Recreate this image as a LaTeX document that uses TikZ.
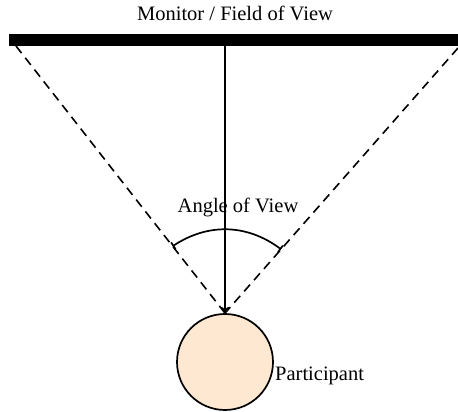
\documentclass[tikz,border=0pt]{standalone}
\usepackage{fontspec}
\setmainfont{Liberation Serif}
\usetikzlibrary{arrows.meta,positioning,calc}

\begin{document}
\begin{tikzpicture}[x=1pt,y=1pt,
  font=\fontsize{20.5}{24}\selectfont,>={To[length=2.2mm,width=2.8mm]},
  monitor/.style={fill=black,inner sep=0pt,minimum width=449pt,minimum height=12pt},
  head/.style={circle,draw,line width=1.7pt,fill=orange!18,inner sep=0pt,minimum size=96pt},
  sight/.style={line width=1.6pt,dash pattern=on 9pt off 6pt},
  ar/.style={->,line width=1.5pt},
  lbl/.style={inner sep=0pt}
]
\useasboundingbox (0,0) rectangle (458,412);

% ---- monitor and participant ----
\node[monitor] (mon) at (233.5,372) {};
\node[lbl,anchor=base] (title) at (235,391) {Monitor / Field of View};
\node[head] (head) at (225,50) {};
\node[lbl,anchor=base west] (part) at (275,31) {Participant};

% ---- lines of sight ----
\coordinate (eye) at (head.north);
\coordinate (lc) at (16,366);
\coordinate (rc) at (458,364);
\draw[sight] (lc) -- (eye);
\draw[sight] (rc) -- (eye);
\draw[ar] (mon.south -| eye) -- (eye);

% ---- angle of view ----
\coordinate (aL) at ($(eye)!85pt!(lc)$);
\coordinate (aR) at ($(eye)!85pt!(rc)$);
\draw[line width=1.7pt,{Bar[width=8pt]}-{Bar[width=8pt]}] (aL) to[bend left=35] (aR);
\node[lbl,anchor=base] (angle) at (238,199) {Angle of View};
\end{tikzpicture}
\end{document}
